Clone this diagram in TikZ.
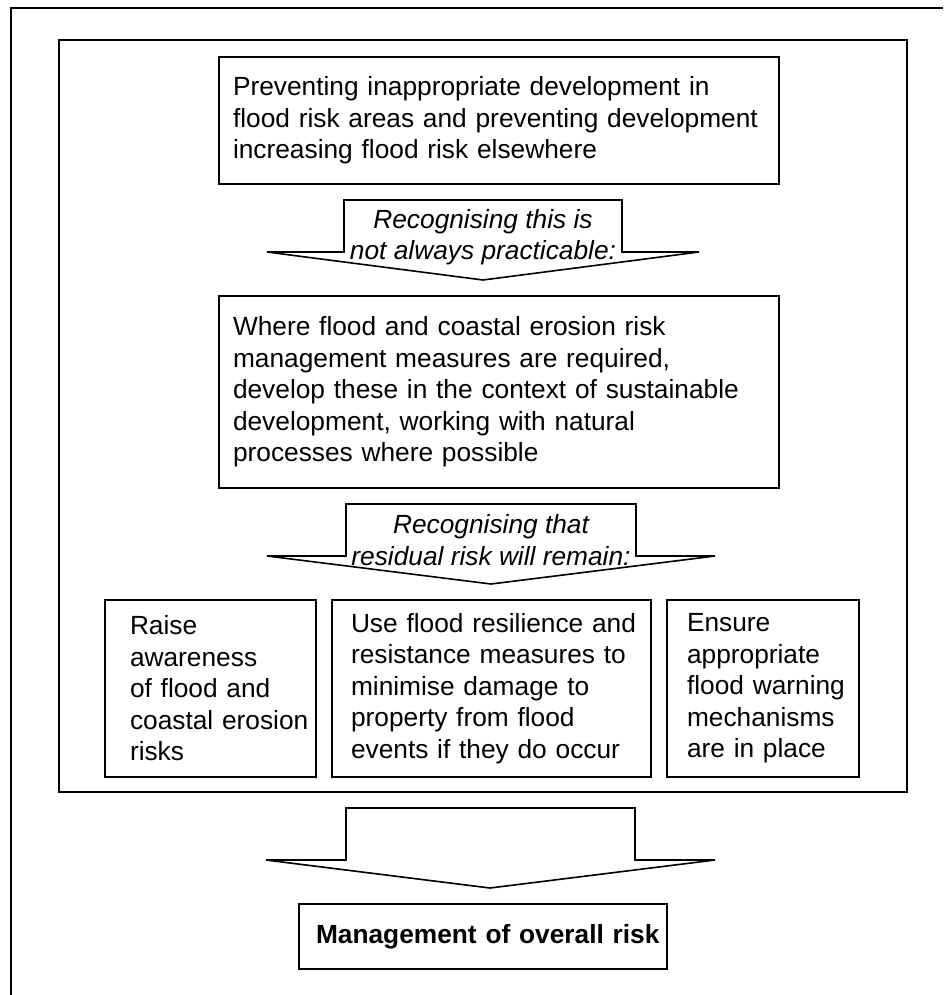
\documentclass[tikz,border=0pt]{standalone}
\usepackage{fontspec}
\setmainfont{Liberation Sans}

\begin{document}
\begin{tikzpicture}[x=0.5pt,y=-0.5pt,
    outerframe/.style={draw,line width=1pt},
    textbox/.style={draw,line width=1pt,inner sep=0pt,align=left,
      font=\fontsize{13.15}{15.75}\selectfont},
    blockarrow/.style={draw,line width=0.8pt,line join=miter},
    arrowtext/.style={inner sep=0pt,align=center,
      font=\fontsize{13.15}{15.75}\selectfont\itshape}]
  \useasboundingbox (0,0) rectangle (943,995);
  % frames
  \draw[outerframe] (11,995) |- (943,8);
  \draw[outerframe] (59,40) rectangle (907,792);
  % main steps
  \node[textbox,minimum width=280pt,minimum height=63.5pt,text width=266pt] (prevent) at (499,120.5)
    {Preventing inappropriate development in\\flood risk areas and preventing development\\increasing flood risk elsewhere};
  \node[textbox,minimum width=280pt,minimum height=96pt,text width=266pt] (measures) at (499,392)
    {Where flood and coastal erosion risk\\management measures are required,\\develop these in the context of sustainable\\development, working with natural\\processes where possible};
  % residual risk boxes
  \node[textbox,minimum width=105.5pt,minimum height=88.5pt,text width=80.5pt] (aware) at (210.5,688.5)
    {Raise\\awareness\\of flood and\\\mbox{coastal erosion}\\risks};
  \node[textbox,minimum width=159.5pt,minimum height=88.5pt,text width=140.5pt] (resist) at (491.5,688.5)
    {\mbox{Use flood resilience and}\\\mbox{resistance measures to}\\minimise damage to\\property from flood\\\mbox{events if they do occur}};
  \node[textbox,minimum width=96pt,minimum height=88.5pt,text width=76pt] (warn) at (763,688.5)
    {Ensure\\appropriate\\\mbox{flood warning}\\mechanisms\\are in place};
  \node[textbox,minimum width=184pt,minimum height=32.5pt,text width=167pt] (overall) at (483,936.5)
    {\mbox{\textbf{Management of overall risk}}};
  % block arrows
  \coordinate (tip1) at (483,280);
  \coordinate (tip2) at (491,584);
  \coordinate (tip3) at (490,888);
  \draw[blockarrow] (344,200) -- (622,200) -- (622,252) -- (699,252) -- (tip1) -- (267,252) -- (344,252) -- cycle;
  \draw[blockarrow] (346,504) -- (636,504) -- (636,556) -- (715,556) -- (tip2) -- (267,556) -- (346,556) -- cycle;
  \draw[blockarrow] (346,808) -- (635,808) -- (635,860) -- (715,860) -- (tip3) -- (266,860) -- (346,860) -- cycle;
  \node[arrowtext] (why1) at (483,237) {Recognising this is\\not always practicable:};
  \node[arrowtext] (why2) at (491,540) {Recognising that\\residual risk will remain:};
\end{tikzpicture}
\end{document}
